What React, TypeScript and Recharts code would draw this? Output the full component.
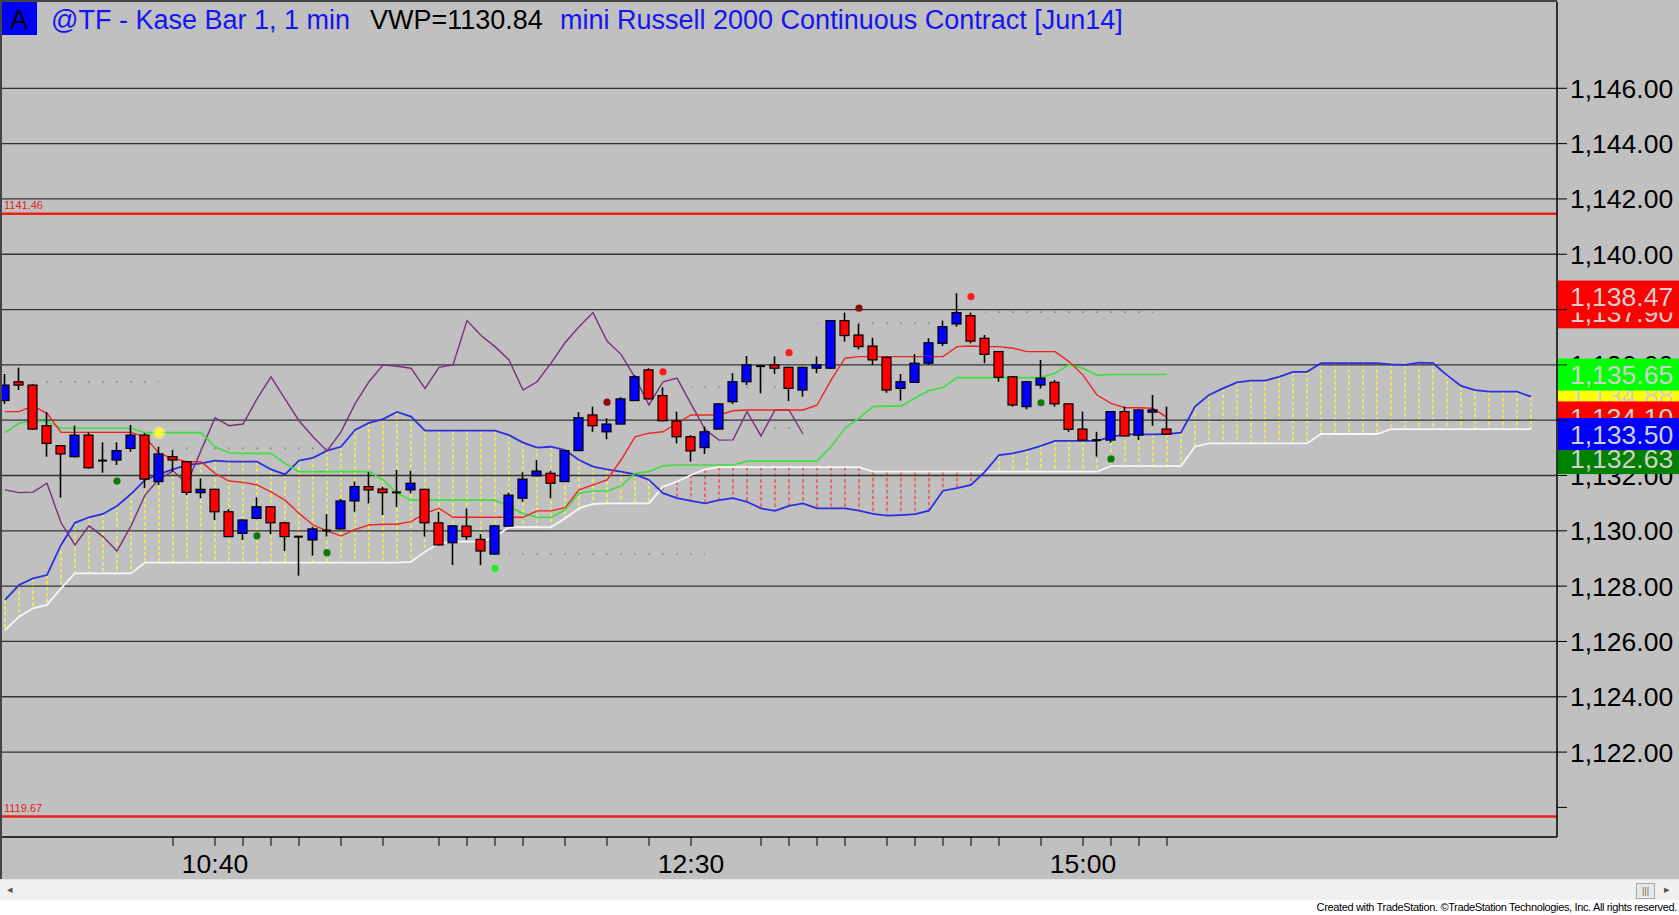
import { Bar, ComposedChart, Line, ReferenceLine, Scatter, XAxis, YAxis } from "recharts";

// candles (84 Kase bars)
const opens = [
  1134.71, 1135.39, 1135.27, 1133.8, 1133.08, 1132.68, 1133.46, 1132.52, 1132.56, 1132.98,
  1133.46, 1131.78, 1132.68, 1132.5, 1131.38, 1131.5, 1130.69, 1129.91, 1130.45, 1130.87,
  1130.29, 1129.8, 1129.67, 1130.0, 1130.07, 1131.08, 1131.6, 1131.51, 1131.38, 1131.48,
  1131.5, 1130.29, 1129.57, 1130.17, 1129.69, 1129.16, 1130.17, 1131.18, 1131.99, 1132.08,
  1131.78, 1132.9, 1134.19, 1133.58, 1133.86, 1134.71, 1135.82, 1134.89, 1133.97, 1133.4,
  1133.01, 1133.68, 1134.67, 1135.39, 1135.96, 1136.0, 1135.91, 1135.09, 1135.88, 1135.88,
  1137.6, 1137.08, 1136.68, 1136.27, 1135.15, 1135.37, 1136.06, 1136.78, 1137.48, 1137.78,
  1136.96, 1136.48, 1135.57, 1134.49, 1135.27, 1135.37, 1134.59, 1133.68, 1133.27, 1133.28,
  1134.31, 1133.46, 1134.29, 1133.68,
];
const highs = [
  1135.67, 1135.9, 1135.3, 1134.29, 1133.1, 1133.8, 1133.56, 1133.2, 1133.2, 1133.83,
  1133.53, 1133.04, 1132.92, 1132.52, 1131.9, 1131.52, 1130.78, 1130.42, 1131.21, 1130.89,
  1130.33, 1129.82, 1130.15, 1130.6, 1131.15, 1131.78, 1132.12, 1131.6, 1132.2, 1132.17,
  1131.52, 1130.69, 1130.2, 1130.81, 1129.88, 1130.2, 1131.38, 1132.12, 1132.56, 1132.17,
  1132.92, 1134.29, 1134.49, 1134.07, 1134.83, 1135.63, 1135.88, 1135.19, 1134.31, 1133.46,
  1133.77, 1134.6, 1135.7, 1136.32, 1135.98, 1136.31, 1135.93, 1135.93, 1136.3, 1137.62,
  1137.89, 1137.48, 1136.98, 1136.3, 1135.67, 1136.39, 1136.96, 1137.6, 1138.59, 1137.89,
  1137.08, 1136.5, 1135.6, 1135.4, 1136.18, 1135.45, 1134.6, 1134.31, 1133.58, 1134.33,
  1134.49, 1134.4, 1134.91, 1134.49,
];
const lows = [
  1134.59, 1135.09, 1133.65, 1132.68, 1131.2, 1132.65, 1132.25, 1132.1, 1132.38, 1132.86,
  1131.54, 1131.66, 1132.14, 1131.29, 1131.18, 1130.39, 1129.77, 1129.67, 1130.42, 1129.88,
  1129.27, 1128.38, 1129.1, 1129.79, 1130.05, 1130.69, 1130.99, 1130.57, 1130.87, 1131.36,
  1129.79, 1129.47, 1128.76, 1129.67, 1128.76, 1129.14, 1130.15, 1131.05, 1131.97, 1131.18,
  1131.76, 1132.88, 1133.58, 1133.31, 1133.85, 1134.69, 1134.75, 1133.96, 1133.16, 1132.5,
  1132.78, 1133.66, 1134.59, 1135.27, 1134.97, 1135.67, 1134.69, 1134.85, 1135.7, 1135.86,
  1136.84, 1136.56, 1136.0, 1134.99, 1134.71, 1135.35, 1136.0, 1136.68, 1137.38, 1136.78,
  1136.06, 1135.39, 1134.49, 1134.39, 1135.15, 1134.49, 1133.58, 1133.26, 1132.68, 1133.19,
  1133.4, 1133.28, 1133.8, 1133.46,
];
const closes = [
  1135.27, 1135.27, 1133.68, 1133.16, 1132.78, 1133.46, 1132.28, 1132.56, 1132.9, 1133.46,
  1131.87, 1132.78, 1132.56, 1131.39, 1131.5, 1130.69, 1129.79, 1130.39, 1130.87, 1130.29,
  1129.79, 1129.78, 1130.07, 1130.02, 1131.08, 1131.6, 1131.48, 1131.38, 1131.4, 1131.72,
  1130.29, 1129.49, 1130.18, 1129.79, 1129.27, 1130.18, 1131.29, 1131.87, 1132.16, 1131.72,
  1132.9, 1134.09, 1133.8, 1133.86, 1134.77, 1135.57, 1134.77, 1133.98, 1133.4, 1132.89,
  1133.58, 1134.59, 1135.39, 1136.0, 1135.95, 1135.88, 1135.15, 1135.91, 1136.0, 1137.6,
  1137.06, 1136.66, 1136.18, 1135.09, 1135.39, 1136.06, 1136.8, 1137.38, 1137.89, 1136.86,
  1136.38, 1135.55, 1134.55, 1135.39, 1135.52, 1134.59, 1133.67, 1133.28, 1133.29, 1134.31,
  1133.43, 1134.37, 1134.37, 1133.5,
];

// ichimoku lines
const tenkan = [
  1134.31, 1134.31, 1134.51, 1134.25, 1133.56, 1133.56, 1133.56, 1133.56, 1133.56, 1133.56,
  1133.4, 1132.8, 1132.62, 1132.5, 1132.5, 1132.08, 1131.8, 1131.75, 1131.66, 1131.41,
  1131.11, 1130.63, 1130.21, 1130.0, 1129.81, 1130.05, 1130.21, 1130.24, 1130.24, 1130.33,
  1130.63, 1130.81, 1130.49, 1130.49, 1130.49, 1130.49, 1130.49, 1130.49, 1130.72, 1130.72,
  1130.84, 1131.48, 1131.66, 1131.84, 1132.56, 1133.4, 1133.53, 1133.58, 1133.89, 1134.19,
  1134.19, 1134.19, 1134.34, 1134.37, 1134.37, 1134.37, 1134.37, 1134.37, 1134.54, 1135.45,
  1136.24, 1136.3, 1136.3, 1136.3, 1136.3, 1136.3, 1136.3, 1136.3, 1136.66, 1136.68,
  1136.66, 1136.66, 1136.6, 1136.48, 1136.48, 1136.48, 1136.12, 1135.63, 1134.91, 1134.61,
  1134.45, 1134.45, 1134.43, 1134.1,
];
const kijun = [
  1133.55, 1133.89, 1133.98, 1133.95, 1133.71, 1133.71, 1133.71, 1133.71, 1133.71, 1133.71,
  1133.55, 1133.55, 1133.55, 1133.55, 1133.55, 1133.04, 1132.82, 1132.8, 1132.8, 1132.8,
  1132.44, 1132.14, 1132.14, 1132.14, 1132.14, 1132.14, 1132.14, 1131.84, 1131.36, 1131.11,
  1131.11, 1131.11, 1131.11, 1131.11, 1131.11, 1131.11, 1130.87, 1130.63, 1130.49, 1130.49,
  1130.75, 1131.36, 1131.44, 1131.44, 1131.62, 1132.08, 1132.14, 1132.35, 1132.38, 1132.38,
  1132.38, 1132.38, 1132.38, 1132.52, 1132.52, 1132.52, 1132.52, 1132.52, 1132.52, 1133.04,
  1133.71, 1134.07, 1134.49, 1134.51, 1134.51, 1134.8, 1135.07, 1135.18, 1135.54, 1135.54,
  1135.54, 1135.54, 1135.54, 1135.54, 1135.54, 1135.7, 1136.0, 1135.88, 1135.63, 1135.65,
  1135.65, 1135.65, 1135.65, 1135.65,
];
// leading spans, 26 bars past the last candle
const spanA = [
  1127.5, 1128.04, 1128.28, 1128.4, 1129.49, 1130.29, 1130.49, 1130.61, 1130.9, 1131.33,
  1131.84, 1132.05, 1132.22, 1132.38, 1132.44, 1132.54, 1132.5, 1132.5, 1132.5, 1132.22,
  1132.04, 1132.54, 1132.64, 1132.9, 1133.04, 1133.65, 1133.9, 1134.04, 1134.3, 1134.13,
  1133.62, 1133.62, 1133.62, 1133.62, 1133.62, 1133.62, 1133.46, 1133.19, 1133.01, 1133.04,
  1132.92, 1132.56, 1132.32, 1132.22, 1132.14, 1132.04, 1131.84, 1131.36, 1131.18, 1131.08,
  1130.99, 1131.11, 1131.18, 1131.05, 1130.81, 1130.72, 1130.9, 1130.99, 1130.81, 1130.81,
  1130.81, 1130.73, 1130.61, 1130.55, 1130.57, 1130.6, 1130.73, 1131.45, 1131.54, 1131.66,
  1132.14, 1132.74, 1132.8, 1132.92, 1133.07, 1133.25, 1133.25, 1133.25, 1133.25, 1133.4,
  1133.49, 1133.49, 1133.49, 1133.5, 1133.55, 1134.49, 1134.91, 1135.15, 1135.37, 1135.43,
  1135.43, 1135.57, 1135.75, 1135.75, 1136.06, 1136.06, 1136.06, 1136.06, 1136.06, 1136.02,
  1136.0, 1136.08, 1136.06, 1135.63, 1135.24, 1135.09, 1135.03, 1135.03, 1135.03, 1134.85,
];
const spanB = [
  1126.41, 1126.89, 1127.2, 1127.32, 1127.92, 1128.46, 1128.46, 1128.46, 1128.46, 1128.46,
  1128.85, 1128.85, 1128.85, 1128.85, 1128.85, 1128.85, 1128.85, 1128.85, 1128.85, 1128.85,
  1128.85, 1128.85, 1128.85, 1128.85, 1128.85, 1128.85, 1128.85, 1128.85, 1128.85, 1128.88,
  1129.24, 1129.55, 1129.61, 1129.61, 1129.61, 1129.79, 1130.13, 1130.13, 1130.13, 1130.13,
  1130.45, 1130.81, 1130.97, 1130.99, 1130.99, 1130.99, 1130.99, 1131.6, 1131.78, 1132.02,
  1132.22, 1132.3, 1132.3, 1132.3, 1132.3, 1132.3, 1132.3, 1132.3, 1132.3, 1132.3,
  1132.3, 1132.3, 1132.14, 1132.14, 1132.14, 1132.14, 1132.14, 1132.14, 1132.14, 1132.14,
  1132.14, 1132.14, 1132.14, 1132.14, 1132.14, 1132.14, 1132.14, 1132.14, 1132.14, 1132.34,
  1132.34, 1132.34, 1132.34, 1132.34, 1132.34, 1133.04, 1133.16, 1133.16, 1133.16, 1133.16,
  1133.16, 1133.16, 1133.16, 1133.16, 1133.5, 1133.5, 1133.5, 1133.5, 1133.5, 1133.68,
  1133.68, 1133.68, 1133.68, 1133.68, 1133.68, 1133.68, 1133.68, 1133.68, 1133.68, 1133.68,
];
const LAG = 26;

// signal dots
const dotIdx = [8, 11, 18, 23, 35, 43, 47, 56, 61, 69, 74, 79];
const dotVal = [1131.8, 1133.55, 1129.82, 1129.21, 1128.64, 1134.65, 1135.75, 1136.44, 1138.05, 1138.47, 1134.63, 1132.6];
const dotKind = ["dg", "y", "dg", "dg", "g", "dr", "r", "r", "dr", "r", "dg", "dg"];

// faint dotted levels
const lvlVal = [1135.39, 1132.98, 1129.16, 1135.2, 1137.5, 1137.9, 1133.71];
const lvlFrom = [2, 12, 36, 49, 58, 70, 54];
const lvlTo = [11, 23, 50, 56, 67, 82, 57];

const redLevels = [1141.46, 1119.67];
const yTicks = [1120, 1122, 1124, 1126, 1128, 1130, 1132, 1134, 1136, 1138, 1140, 1142, 1144, 1146];
const yLabels = [1122, 1124, 1126, 1128, 1130, 1132, 1134, 1136, 1138, 1140, 1142, 1144, 1146];
const gridVals = [1122, 1124, 1126, 1128, 1130, 1132, 1134, 1136, 1138, 1140, 1142, 1144, 1146];
const xTicks = [12, 15, 17, 19, 21, 24, 27, 31, 33, 35, 37, 40, 43, 46, 49, 54, 56, 58, 60, 63, 65, 67, 69, 71, 74, 77, 79, 81, 83];
const timeIdx = [15, 49, 77];
const timeText = ["10:40", "12:30", "15:00"];

// right-hand price flags, drawn bottom to top
const flagVals = [1137.9, 1138.47, 1134.88, 1135.65, 1134.1, 1132.63, 1133.5];
const flagFills = ["#ff0000", "#ff0000", "#ffff00", "#00ff00", "#ff0000", "#008000", "#0000ff"];

const FONT = "'Liberation Sans', Arial, sans-serif";
const SLOTS = spanA.length;

const rows = Array.from({ length: SLOTS }, (_, i) => {
  const hasBar = i < closes.length;
  const lag = i + LAG < closes.length ? closes[i + LAG] : undefined;
  return {
    i,
    candle: hasBar ? [lows[i], highs[i]] : undefined,
    open: hasBar ? opens[i] : undefined,
    high: hasBar ? highs[i] : undefined,
    low: hasBar ? lows[i] : undefined,
    close: hasBar ? closes[i] : undefined,
    tenkan: hasBar ? tenkan[i] : undefined,
    kijun: hasBar ? kijun[i] : undefined,
    chikou: lag,
    spanA: spanA[i],
    spanB: spanB[i],
    cloud: [Math.min(spanA[i], spanB[i]), Math.max(spanA[i], spanB[i])],
  };
});

const dots = dotIdx.map((i, k) => ({ i, v: dotVal[k], kind: dotKind[k] }));

const fmt = (v: number) =>
  v.toLocaleString("en-US", { minimumFractionDigits: 2, maximumFractionDigits: 2 });

const Candle = (props: any) => {
  const { x, y, width, height, payload } = props;
  if (payload == null || payload.high == null) return <g />;
  const cx = x + width / 2;
  const top = Math.min(y, y + height);
  const bot = Math.max(y, y + height);
  const span = payload.high - payload.low;
  const k = span > 0 ? (bot - top) / span : 0;
  const py = (v: number) => top + (payload.high - v) * k;
  const yo = py(payload.open);
  const yc = py(payload.close);
  const up = payload.close >= payload.open;
  const bTop = Math.min(yo, yc);
  const bH = Math.abs(yc - yo);
  return (
    <g>
      <line x1={cx} x2={cx} y1={top} y2={bot} stroke="#000" strokeWidth={1.6} />
      {bH < 1.6 ? (
        <line x1={cx - 4.5} x2={cx + 4.5} y1={(yo + yc) / 2} y2={(yo + yc) / 2} stroke="#000" strokeWidth={2} />
      ) : (
        <rect x={cx - 4.5} y={bTop} width={9} height={bH} fill={up ? "#0000ff" : "#ff0000"} stroke="#000" strokeWidth={1.2} />
      )}
    </g>
  );
};

const CloudDash = (props: any) => {
  const { x, y, width, height, payload } = props;
  if (payload == null || payload.spanA == null) return <g />;
  const cx = x + width / 2;
  const top = Math.min(y, y + height);
  const bot = Math.max(y, y + height);
  const bull = payload.spanA >= payload.spanB;
  return (
    <line
      x1={cx}
      x2={cx}
      y1={top}
      y2={bot}
      stroke={bull ? "#ffff33" : "#ff3333"}
      strokeWidth={1.2}
      strokeDasharray="3.5 2.5"
    />
  );
};

const dotColor: Record<string, string> = {
  dg: "#0b7a0b",
  g: "#22f022",
  dr: "#8a0d0d",
  r: "#ff1a1a",
  y: "#ffff20",
};

const SignalDot = (props: any) => {
  const { cx, cy, payload } = props;
  if (cx == null || cy == null) return <g />;
  const c = dotColor[payload.kind];
  return (
    <g>
      {payload.kind === "y" && <circle cx={cx} cy={cy} r={6.5} fill="#ffff60" opacity={0.55} />}
      <circle cx={cx} cy={cy} r={3.6} fill={c} />
    </g>
  );
};

// tick marks come from the axis; the numbers are drawn as labels so the flags can cover them
const NoTick = () => <g />;

const AxisNumber = (props: any) => {
  const { viewBox, price } = props;
  if (!viewBox) return <g />;
  return (
    <text
      x={viewBox.x + viewBox.width + 13}
      y={viewBox.y + 9.5}
      textAnchor="start"
      fontSize={26.5}
      fontFamily={FONT}
      fill="#000"
    >
      {fmt(price)}
    </text>
  );
};

const XTick = (props: any) => {
  const { x, y, payload } = props;
  const k = timeIdx.indexOf(payload.value);
  if (k < 0) return <g />;
  return (
    <text x={x} y={y + 25} textAnchor="middle" fontSize={26.5} fontFamily={FONT} fill="#000">
      {timeText[k]}
    </text>
  );
};

const PriceFlag = (props: any) => {
  const { viewBox, price, fill } = props;
  if (!viewBox) return <g />;
  const x0 = viewBox.x + viewBox.width + 1;
  const yy = viewBox.y;
  return (
    <g>
      <rect x={x0} y={yy - 16} width={124} height={32} fill={fill} />
      <text x={x0 + 12} y={yy + 9.5} fontSize={26.5} fontFamily={FONT} fill="#d0d0d0">
        {fmt(price)}
      </text>
    </g>
  );
};

const LevelTag = (props: any) => {
  const { viewBox, price } = props;
  if (!viewBox) return <g />;
  return (
    <text x={viewBox.x + 2} y={viewBox.y - 5} fontSize={11} fontFamily={FONT} fill="#e02020">
      {price.toFixed(2)}
    </text>
  );
};

const X_DOMAIN: [number, number] = [-3 / 14, -3 / 14 + 1555 / 14];

export default function App() {
  return (
    <div
      style={{
        position: "absolute",
        left: 0,
        top: 0,
        width: 1679,
        height: 915,
        background: "#c0c0c0",
        overflow: "hidden",
        fontFamily: FONT,
      }}
    >
      <ComposedChart
        width={1679}
        height={915}
        data={rows}
        margin={{ top: 2, right: 0, bottom: 0, left: 2 }}
      >
        <XAxis
          dataKey="i"
          type="number"
          domain={X_DOMAIN}
          allowDataOverflow
          ticks={xTicks}
          interval={0}
          height={78}
          tickSize={9}
          tickMargin={2}
          stroke="#000"
          axisLine={{ stroke: "#000", strokeWidth: 1.5 }}
          tickLine={{ stroke: "#000" }}
          tick={<XTick />}
        />
        <XAxis xAxisId="cloud" dataKey="i" type="number" domain={X_DOMAIN} allowDataOverflow hide />
        <YAxis
          orientation="right"
          width={122}
          domain={[1118.93, 1149.12]}
          allowDataOverflow
          ticks={yTicks}
          interval={0}
          tickSize={10}
          tickMargin={3}
          axisLine={{ stroke: "#000", strokeWidth: 1.5 }}
          tickLine={{ stroke: "#000" }}
          tick={<NoTick />}
        />

        {gridVals.map((v) => (
          <ReferenceLine key={`g${v}`} y={v} stroke="#333" strokeWidth={1.3} />
        ))}

        <Bar
          xAxisId="cloud"
          dataKey="cloud"
          barSize={4}
          shape={<CloudDash />}
          isAnimationActive={false}
        />

        <Line dataKey="spanB" stroke="#f6f6f6" strokeWidth={1.8} dot={false} activeDot={false} isAnimationActive={false} />
        <Line dataKey="spanA" stroke="#2e2ee0" strokeWidth={1.8} dot={false} activeDot={false} isAnimationActive={false} />
        <Line dataKey="chikou" stroke="#7b2f7b" strokeWidth={1.4} dot={false} activeDot={false} isAnimationActive={false} />
        <Line dataKey="kijun" stroke="#3ede3e" strokeWidth={1.6} dot={false} activeDot={false} isAnimationActive={false} />
        <Line dataKey="tenkan" stroke="#ee2424" strokeWidth={1.4} dot={false} activeDot={false} isAnimationActive={false} />

        {lvlVal.map((v, k) => (
          <ReferenceLine
            key={`l${k}`}
            segment={[
              { x: lvlFrom[k], y: v },
              { x: lvlTo[k], y: v },
            ]}
            stroke={k === 0 ? "#b07878" : "#8e8e8e"}
            strokeWidth={1.6}
            strokeDasharray="2 12"
            strokeDashoffset={1}
          />
        ))}

        <Bar dataKey="candle" barSize={9} shape={<Candle />} isAnimationActive={false} zIndex={450} />

        <Scatter data={dots} dataKey="v" shape={<SignalDot />} isAnimationActive={false} />

        {redLevels.map((v) => (
          <ReferenceLine
            key={`r${v}`}
            y={v}
            stroke="#f01c1c"
            strokeWidth={2.5}
            label={<LevelTag price={v} />}
          />
        ))}

        {yLabels.map((v) => (
          <ReferenceLine key={`n${v}`} y={v} stroke="none" label={<AxisNumber price={v} />} />
        ))}

        {flagVals.map((v, k) => (
          <ReferenceLine
            key={`f${k}`}
            y={v}
            stroke="none"
            label={<PriceFlag price={v} fill={flagFills[k]} />}
          />
        ))}
      </ComposedChart>

      {/* frame edges */}
      <div style={{ position: "absolute", left: 0, top: 0, width: 1557, height: 1.5, background: "#444" }} />
      <div style={{ position: "absolute", left: 0, top: 0, width: 1.5, height: 879, background: "#444" }} />

      {/* title */}
      <svg style={{ position: "absolute", left: 0, top: 0 }} width={1200} height={40}>
        <rect x={2} y={2} width={35} height={33} fill="#0000ff" />
        <text x={10} y={29} fontSize={27} fontFamily={FONT} fill="#000">
          A
        </text>
        <text x={51} y={29} fontSize={27} fontFamily={FONT} fill="#1414f0">
          @TF - Kase Bar 1, 1 min
        </text>
        <text x={370} y={29} fontSize={27} fontFamily={FONT} fill="#000">
          VWP=1130.84
        </text>
        <text x={560} y={29} fontSize={27} fontFamily={FONT} fill="#1414f0">
          mini Russell 2000 Continuous Contract [Jun14]
        </text>
      </svg>

      {/* scroll bar */}
      <div
        style={{
          position: "absolute",
          left: 0,
          top: 879,
          width: 1679,
          height: 21,
          background: "#f0f0f0",
          borderTop: "1px solid #e4e4e4",
        }}
      >
        <div style={{ position: "absolute", left: 7, top: 3, fontSize: 11, color: "#555" }}>◂</div>
        <div
          style={{
            position: "absolute",
            left: 1636,
            top: 3,
            width: 17,
            height: 14,
            background: "#e8e8e8",
            border: "1px solid #a8a8a8",
            fontSize: 9,
            lineHeight: "14px",
            textAlign: "center",
            color: "#666",
          }}
        >
          |||
        </div>
        <div style={{ position: "absolute", left: 1664, top: 3, fontSize: 11, color: "#555" }}>▸</div>
      </div>

      {/* footer */}
      <div
        style={{
          position: "absolute",
          left: 0,
          top: 900,
          width: 1679,
          height: 15,
          background: "#ffffff",
        }}
      >
        <div
          style={{
            position: "absolute",
            right: 2,
            top: 1,
            fontSize: 11,
            letterSpacing: -0.35,
            color: "#000",
            whiteSpace: "nowrap",
          }}
        >
          Created with TradeStation. ©TradeStation Technologies, Inc. All rights reserved.
        </div>
      </div>
    </div>
  );
}
